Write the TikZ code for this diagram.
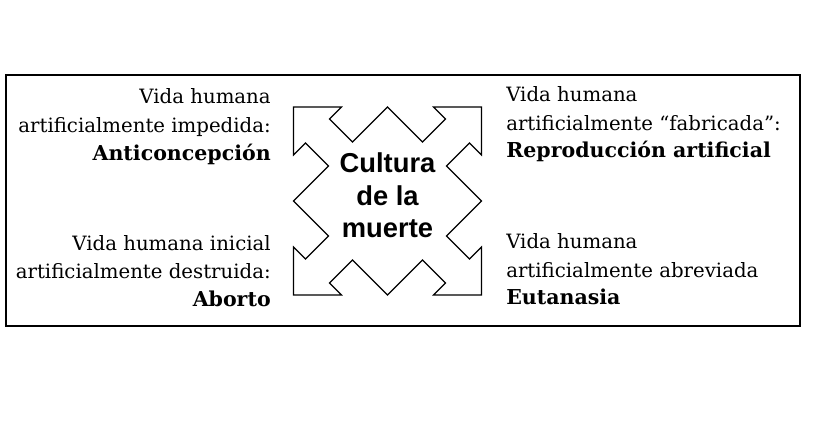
\documentclass[tikz,border=0pt]{standalone}
\usepackage{fontspec}
\setmainfont{DejaVu Serif}
\newfontfamily\centerfont{Liberation Sans}
\begin{document}
\begin{tikzpicture}[x=0.75pt,y=-0.75pt,
  lbl/.style={inner sep=0pt,font=\fontsize{14.8}{17}\selectfont},
  lblb/.style={lbl,font=\fontsize{15.4}{17}\selectfont\bfseries},
  ctr/.style={inner sep=0pt,anchor=base,font=\centerfont\fontsize{20.5}{23}\selectfont\bfseries},
  frame/.style={draw,line width=1.6pt},
  star/.style={draw,line width=0.9pt,line join=miter}]
\useasboundingbox (0,0) rectangle (816,441);
\node[frame,minimum width=794*0.75pt,minimum height=251*0.75pt,inner sep=0pt,anchor=north west] (box) at (5,74) {};
\coordinate (c) at (387.5,201);
\draw[star,shift={(c)}] (-94,0) -- (-59,-35) -- (-82,-58) -- (-94,-46) -- (-94,-94) -- (-46,-94) -- (-58,-82) -- (-35,-59) -- (0,-94)
 -- (35,-59) -- (58,-82) -- (46,-94) -- (94,-94) -- (94,-46) -- (82,-58) -- (59,-35) -- (94,0)
 -- (59,35) -- (82,58) -- (94,46) -- (94,94) -- (46,94) -- (58,82) -- (35,59) -- (0,94)
 -- (-35,59) -- (-58,82) -- (-46,94) -- (-94,94) -- (-94,46) -- (-82,58) -- (-59,35) -- cycle;
\node[ctr] (c1) at (387.5,173) {Cultura};
\node[ctr] (c2) at (387.5,206) {de la};
\node[ctr] (c3) at (387.5,238) {muerte};
% top left
\node[lbl,anchor=base east] (tl1) at (271,104) {Vida humana};
\node[lbl,anchor=base east] (tl2) at (271,133) {artificialmente impedida:};
\node[lblb,anchor=base east] (tl3) at (271,161) {Anticoncepción};
% top right
\node[lbl,anchor=base west] (tr1) at (506,102) {Vida humana};
\node[lbl,anchor=base west] (tr2) at (506,131) {artificialmente “fabricada”:};
\node[lblb,anchor=base west] (tr3) at (506,158) {Reproducción artificial};
% bottom left
\node[lbl,anchor=base east] (bl1) at (271,251) {Vida humana inicial};
\node[lbl,anchor=base east] (bl2) at (271,279) {artificialmente destruida:};
\node[lblb,anchor=base east] (bl3) at (271,306) {Aborto};
% bottom right
\node[lbl,anchor=base west] (br1) at (506,249) {Vida humana};
\node[lbl,anchor=base west] (br2) at (506,277) {artificialmente abreviada};
\node[lblb,anchor=base west] (br3) at (506,304) {Eutanasia};
\end{tikzpicture}
\end{document}
